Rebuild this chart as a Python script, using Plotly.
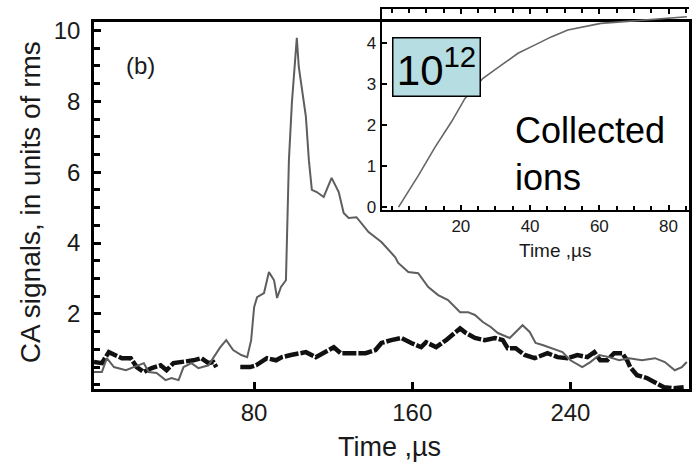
import plotly.graph_objects as go

# ---- main panel: CA signals (units of rms) vs time (us) ----
gray_t = [-1.0, 3.0, 5.5, 9.1, 15.1, 19.1, 24.2, 26.7, 30.7, 35.2, 38.2, 41.8, 44.3, 48.3,
          51.8, 56.9, 60.4, 62.9, 65.9, 69.4, 73.5, 76.5, 78.5, 80.0, 81.5, 85.0, 87.5, 90.1,
          91.6, 93.6, 96.1, 96.6, 97.6, 99.1, 101.1, 101.6, 102.6, 104.2, 106.2, 107.7, 109.2,
          111.7, 115.2, 119.2, 122.8, 125.3, 127.8, 131.8, 137.9, 144.4, 151.4, 152.9, 158.0,
          163.0, 168.1, 173.1, 178.1, 184.2, 188.2, 191.7, 195.7, 199.7, 203.3, 209.3, 215.8,
          219.4, 222.4, 225.9, 230.9, 236.0, 240.0, 246.0, 250.1, 254.6, 259.6, 264.7, 269.7,
          276.2, 282.8, 287.8, 292.8, 296.4, 298.9]
gray_v = [0.36, 0.36, 0.75, 0.50, 0.41, 0.50, 0.61, 0.36, 0.33, 0.13, 0.19, 0.13, 0.50, 0.61,
          0.47, 0.55, 0.84, 1.06, 1.26, 0.98, 0.84, 0.78, 1.26, 2.19, 2.47, 2.59, 3.18, 2.95,
          2.45, 2.76, 2.95, 3.89, 6.34, 7.95, 9.37, 9.79, 8.97, 8.40, 7.56, 6.34, 5.50,
          5.44, 5.30, 5.84, 5.44, 4.85, 4.71, 4.73, 4.31, 4.03, 3.60, 3.44, 3.18,
          3.15, 2.76, 2.53, 2.39, 2.05, 2.05, 1.97, 1.77, 1.63, 1.46, 1.32, 1.68,
          1.49, 1.18, 1.12, 1.03, 0.92, 0.69, 0.50, 0.64, 0.84, 0.78, 0.69, 0.75,
          0.69, 0.75, 0.64, 0.41, 0.50, 0.64]

black_t = [-1.0, 3.0, 6.5, 10.1, 13.1, 17.6, 20.6, 24.2, 28.2, 32.7, 35.7, 39.2, 44.3, 49.3,
           53.3, 56.9, 59.4, 60.9, 66.0, 73.0, 78.0, 81.0, 82.5, 86.5, 91.1, 94.1, 98.6, 102.6,
           106.2, 111.2, 116.2, 120.3, 123.8, 129.3, 136.4, 141.4, 144.4, 149.4, 154.5, 159.5,
           164.5, 167.0, 172.1, 177.1, 181.6, 184.2, 187.2, 191.7, 196.7, 201.8, 205.8, 208.3,
           212.3, 216.9, 221.9, 228.4, 233.5, 238.5, 243.5, 248.6, 252.1, 255.1, 258.6, 262.1,
           266.2, 268.7, 270.2, 273.7, 278.7, 282.8, 287.3, 292.3, 297.3]
black_v = [0.64, 0.61, 0.92, 0.84, 0.75, 0.75, 0.50, 0.36, 0.47, 0.55, 0.41, 0.61, 0.64, 0.69,
           0.75, 0.61, 0.64, 0.50, None, 0.50, 0.50, 0.55, 0.61, 0.75, 0.69, 0.78, 0.84, 0.89,
           0.92, 0.78, 0.92, 1.06, 0.89, 0.89, 0.89, 0.98, 1.18, 1.26, 1.32, 1.18,
           1.06, 1.20, 1.06, 1.26, 1.46, 1.59, 1.46, 1.32, 1.26, 1.32, 1.26, 1.03,
           1.03, 0.84, 0.75, 0.89, 0.78, 0.75, 0.84, 0.78, 0.92, 0.69, 0.69, 0.89,
           0.89, 0.69, 0.50, 0.27, 0.19, 0.07, -0.07, -0.10, -0.07]

main_yticks = [2, 4, 6, 8, 10]
main_xticks = [80, 160, 240]

# ---- inset: collected ions (x 10^12) vs time (us) ----
ion_t = [2.0, 7.8, 12.6, 17.3, 21.2, 26.4, 31.7, 36.5, 41.3, 46.1, 50.9, 55.7, 60.4, 70.0, 79.6, 85.3]
ion_v = [0.0, 0.78, 1.47, 2.08, 2.65, 3.14, 3.46, 3.75, 3.95, 4.15, 4.32, 4.41, 4.48, 4.54, 4.60, 4.64]
inset_xticks = [20, 40, 60, 80]
inset_yticks = [0, 1, 2, 3, 4]

FONT = "Liberation Sans, Arial, Helvetica, sans-serif"
TXT = "#1a1a1a"

fig = go.Figure()
fig.add_trace(go.Scatter(x=black_t, y=black_v, mode="lines", connectgaps=False,
                         line=dict(color="#111111", width=4.5, dash="14px,2px"),
                         xaxis="x", yaxis="y", showlegend=False))
fig.add_trace(go.Scatter(x=gray_t, y=gray_v, mode="lines",
                         line=dict(color="#5e5e5e", width=2),
                         xaxis="x", yaxis="y", showlegend=False))
fig.add_trace(go.Scatter(x=ion_t, y=ion_v, mode="lines",
                         line=dict(color="#666666", width=1.6),
                         xaxis="x2", yaxis="y2", showlegend=False))

H_TOP = 9
MAIN_TOP = 22
BOT = 389
area_h = BOT - H_TOP

fig.update_layout(
    width=694, height=462,
    margin=dict(l=94, r=2, t=H_TOP, b=462 - BOT),
    paper_bgcolor="white", plot_bgcolor="rgba(0,0,0,0)",
    font=dict(family=FONT, color=TXT),
    xaxis=dict(domain=[0, 1], range=[-1, 300], tickmode="array", tickvals=main_xticks,
               ticks="inside", ticklen=7, tickwidth=2.5, tickcolor="black",
               showline=True, linewidth=2.5, linecolor="black", mirror=True,
               showgrid=False, zeroline=False, tickfont=dict(size=24, color=TXT),
               anchor="y"),
    yaxis=dict(domain=[0, (BOT - MAIN_TOP) / area_h], range=[-0.12, 10.24],
               tickmode="array", tickvals=main_yticks,
               ticks="inside", ticklen=7, tickwidth=2.5, tickcolor="black",
               minor=dict(ticks="inside", dtick=0.5, ticklen=6, tickwidth=2.5,
                          tickcolor="black"),
               showline=True, linewidth=2.5, linecolor="black", mirror=True,
               showgrid=False, zeroline=False, tickfont=dict(size=24, color=TXT),
               ticklabelstandoff=6, anchor="x"),
    xaxis2=dict(domain=[(383 - 94) / 598, 1], range=[-2.9, 85.9],
                tickmode="array", tickvals=inset_xticks,
                ticks="inside", ticklen=5, tickwidth=1.5, tickcolor="black",
                minor=dict(ticks="inside", dtick=5, ticklen=4, tickwidth=1.5,
                           tickcolor="black"),
                showline=True, linewidth=2, linecolor="black", mirror="allticks",
                showgrid=False, zeroline=False, tickfont=dict(size=17, color=TXT),
                anchor="y2"),
    yaxis2=dict(domain=[(BOT - 210) / area_h, 1], range=[-0.07, 4.83],
                tickmode="array", tickvals=inset_yticks,
                ticks="inside", ticklen=5, tickwidth=1.5, tickcolor="black",
                showline=True, linewidth=2, linecolor="black", mirror=False,
                showgrid=False, zeroline=False, tickfont=dict(size=17, color=TXT),
                anchor="x2"),
)

def px_x(x):
    return (x - 94) / 598

def px_y(y):
    return (BOT - y) / area_h

annots = [
    dict(text="CA signals, in units of rms", x=px_x(30), y=px_y(202), textangle=-90,
         font=dict(size=28, color=TXT)),
    dict(text="Time ,\u00b5s", x=px_x(391), y=px_y(447), font=dict(size=27, color=TXT)),
    dict(text="(b)", x=px_x(124), y=px_y(65), xanchor="left", font=dict(size=24, color=TXT)),
    dict(text="Time ,\u00b5s", x=px_x(558), y=px_y(250), font=dict(size=19, color=TXT)),
    dict(text="Collected<br>ions", x=px_x(515), y=px_y(154), xanchor="left", align="left",
         font=dict(size=36, color="black")),
    dict(text="10<sup>12</sup>", x=px_x(438), y=px_y(67), font=dict(size=42, color="black"),
         bgcolor="#b6dde1", bordercolor="black", borderwidth=1.5, borderpad=0,
         width=86, height=57, valign="middle"),
]
for a in annots:
    base = dict(xref="paper", yref="paper", showarrow=False, xanchor="center", yanchor="middle")
    base.update(a)
    fig.add_annotation(**base)

fig.write_html("out.html", config={"displayModeBar": False},
               post_script="document.body.style.margin='0';document.body.style.padding='0';")
